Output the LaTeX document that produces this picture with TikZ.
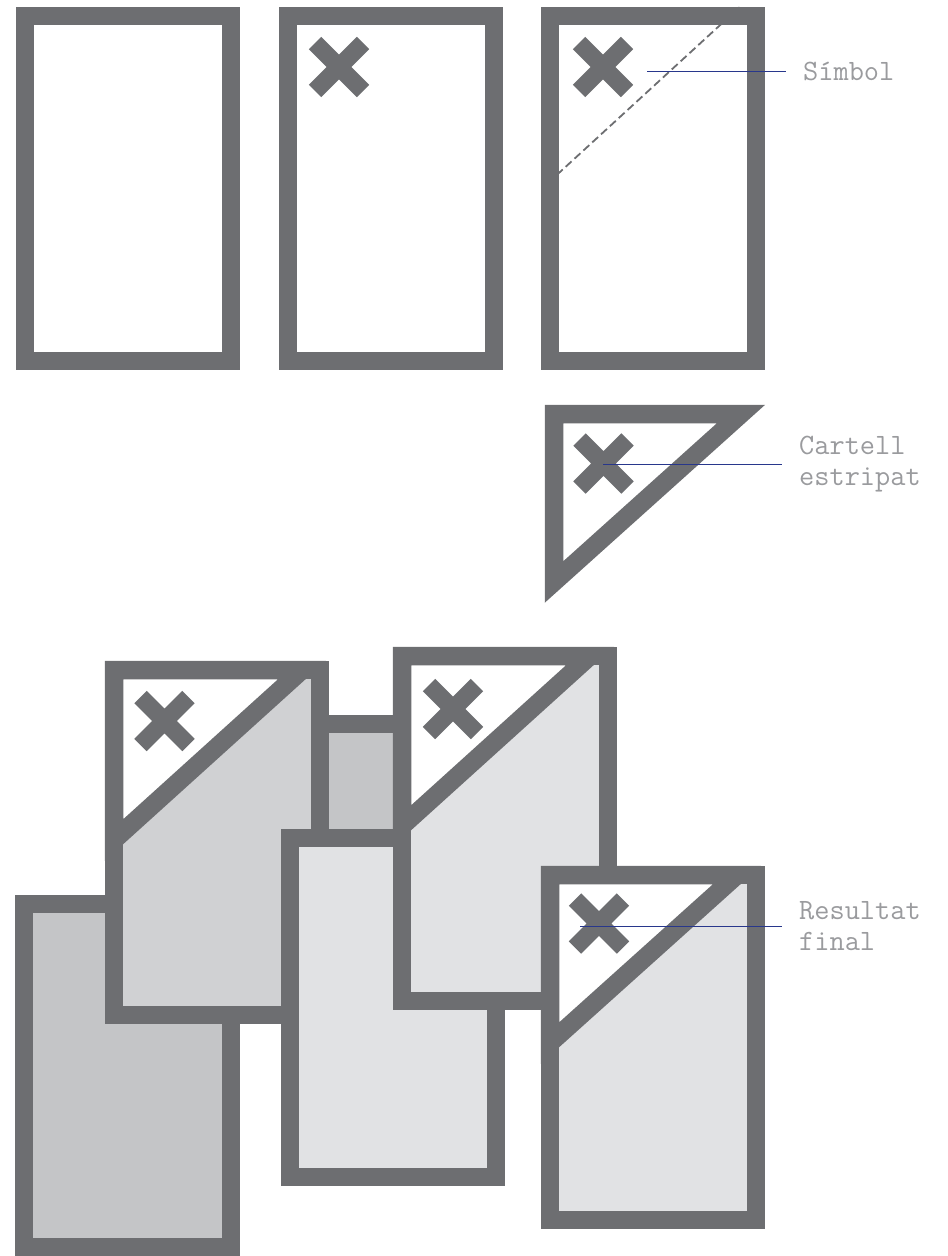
\documentclass[tikz,border=0pt]{standalone}
\usetikzlibrary{positioning}

\definecolor{cardgray}{HTML}{6D6E71}
\definecolor{fillmid}{HTML}{C4C5C7}
\definecolor{filllight}{HTML}{D0D1D3}
\definecolor{fillpale}{HTML}{E1E2E4}
\definecolor{labelgray}{HTML}{9A9B9E}
\definecolor{leaderblue}{RGB}{40,55,140}

\tikzset{
  card/.style={draw=cardgray, line width=18.5pt, fill=white},
  torn/.style={draw=cardgray, line width=18.5pt, fill=white},
  cross/.style={draw=cardgray, line width=17.5pt},
  cutline/.style={draw=cardgray, line width=1.8pt, dash pattern=on 8pt off 4pt},
  leader/.style={draw=leaderblue, line width=0.9pt},
  lbl/.style={text=labelgray, font=\ttfamily\fontsize{29.5}{31}\selectfont,
    align=left, anchor=west, inner ysep=0pt, inner xsep=17pt}
}

\begin{document}
\begin{tikzpicture}[x=1pt, y=-1pt]
  \useasboundingbox (0,0) rectangle (948,1256);

  % top row
  \draw[card] (25,16) rectangle (231,361);
  \draw[card] (288,16) rectangle (494,361);
  \draw[cutline] (548,183) -- (742,5);
  \draw[card, fill=none] (550,16) rectangle (756,361);

  % torn off sign
  \coordinate (t0) at (554,414);
  \draw[torn] (t0) -- ++(187,0) -- ++(-187,168) -- cycle;

  % stack of signs
  \draw[card, fill=fillmid] (24,904) rectangle (231,1247);
  \draw[card, fill=fillmid] (290,724) rectangle (493,1068);
  \draw[card, fill=filllight] (114,670) rectangle (320,1015);
  \coordinate (tb) at (114,670);
  \draw[torn] (tb) -- ++(188,0) -- ++(-188,170) -- cycle;
  \draw[card, fill=fillpale] (290,838) rectangle (496,1177);
  \draw[card, fill=fillpale] (402,656) rectangle (608,1001);
  \coordinate (te) at (402,656);
  \draw[torn] (te) -- ++(188,0) -- ++(-188,170) -- cycle;
  \draw[card, fill=fillpale] (550,875) rectangle (756,1220);
  \coordinate (tf) at (550,875);
  \draw[torn] (tf) -- ++(187,0) -- ++(-187,168) -- cycle;

  % symbols
  \foreach \cx/\cy in {339/67, 603/67, 603.5/463.5, 164.5/721, 453/709, 599/923.5}{
      \draw[cross] (\cx-24,\cy-24) -- (\cx+24,\cy+24)
                   (\cx-24,\cy+24) -- (\cx+24,\cy-24);
    }

  % labels
  \coordinate (sym) at (647,71);
  \coordinate (cart) at (603,464);
  \coordinate (res) at (580,926);
  \node[lbl] (simbol) at (786,71) {Símbol};
  \node[lbl] (cartell) at (782,464) {Cartell\\estripat};
  \node[lbl] (resultat) at (782,926) {Resultat\\final};
  \draw[leader] (sym) -- (simbol.west);
  \draw[leader] (cart) -- (cartell.west);
  \draw[leader] (res) -- (resultat.west);
\end{tikzpicture}
\end{document}
